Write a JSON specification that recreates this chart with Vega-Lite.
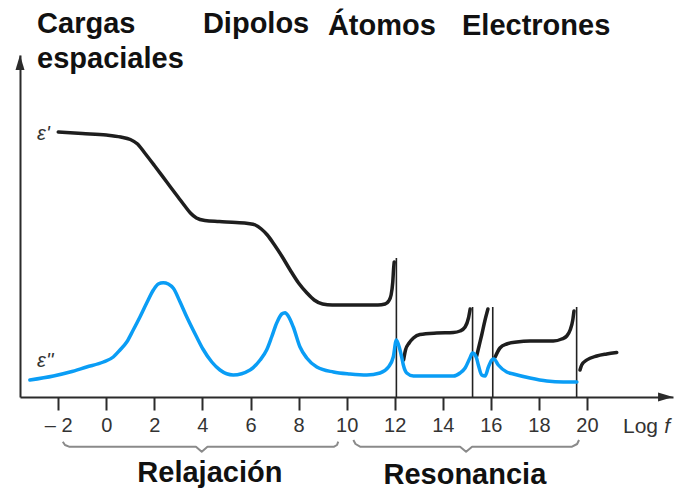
{
  "$schema": "https://vega.github.io/schema/vega-lite/v6.json",
  "width": 653,
  "height": 342,
  "autosize": "none",
  "padding": {"left": 20, "top": 55, "right": 7, "bottom": 94},
  "background": "white",
  "config": {"view": {"stroke": null}, "font": "Liberation Sans"},
  "datasets": {
    "curves": [
      {"kind": "e1", "seg": "a", "x": -2.0, "y": 265},
      {"kind": "e1", "seg": "a", "x": -1.0, "y": 263.5},
      {"kind": "e1", "seg": "a", "x": 0.0, "y": 262},
      {"kind": "e1", "seg": "a", "x": 0.6, "y": 260},
      {"kind": "e1", "seg": "a", "x": 1.0, "y": 257.5},
      {"kind": "e1", "seg": "a", "x": 1.3, "y": 253},
      {"kind": "e1", "seg": "a", "x": 1.6, "y": 244},
      {"kind": "e1", "seg": "a", "x": 2.0, "y": 231.5},
      {"kind": "e1", "seg": "a", "x": 2.5, "y": 215.5},
      {"kind": "e1", "seg": "a", "x": 3.0, "y": 199.5},
      {"kind": "e1", "seg": "a", "x": 3.3, "y": 190},
      {"kind": "e1", "seg": "a", "x": 3.5, "y": 184},
      {"kind": "e1", "seg": "a", "x": 3.75, "y": 179},
      {"kind": "e1", "seg": "a", "x": 4.1, "y": 176.5},
      {"kind": "e1", "seg": "a", "x": 4.7, "y": 175.5},
      {"kind": "e1", "seg": "a", "x": 5.4, "y": 174.5},
      {"kind": "e1", "seg": "a", "x": 5.9, "y": 173.5},
      {"kind": "e1", "seg": "a", "x": 6.2, "y": 172},
      {"kind": "e1", "seg": "a", "x": 6.45, "y": 168},
      {"kind": "e1", "seg": "a", "x": 6.7, "y": 162},
      {"kind": "e1", "seg": "a", "x": 7.0, "y": 152},
      {"kind": "e1", "seg": "a", "x": 7.3, "y": 141},
      {"kind": "e1", "seg": "a", "x": 7.65, "y": 127},
      {"kind": "e1", "seg": "a", "x": 8.0, "y": 114},
      {"kind": "e1", "seg": "a", "x": 8.35, "y": 104},
      {"kind": "e1", "seg": "a", "x": 8.65, "y": 97},
      {"kind": "e1", "seg": "a", "x": 9.0, "y": 93},
      {"kind": "e1", "seg": "a", "x": 9.4, "y": 92},
      {"kind": "e1", "seg": "a", "x": 10.5, "y": 92},
      {"kind": "e1", "seg": "a", "x": 11.3, "y": 92},
      {"kind": "e1", "seg": "a", "x": 11.6, "y": 93},
      {"kind": "e1", "seg": "a", "x": 11.75, "y": 96},
      {"kind": "e1", "seg": "a", "x": 11.85, "y": 102},
      {"kind": "e1", "seg": "a", "x": 11.92, "y": 115},
      {"kind": "e1", "seg": "a", "x": 11.96, "y": 130},
      {"kind": "e1", "seg": "a", "x": 11.98, "y": 135},
      {"kind": "e1", "seg": "b", "x": 12.37, "y": 37},
      {"kind": "e1", "seg": "b", "x": 12.45, "y": 47},
      {"kind": "e1", "seg": "b", "x": 12.6, "y": 54},
      {"kind": "e1", "seg": "b", "x": 12.78, "y": 59},
      {"kind": "e1", "seg": "b", "x": 13.05, "y": 62.5},
      {"kind": "e1", "seg": "b", "x": 13.75, "y": 64},
      {"kind": "e1", "seg": "b", "x": 14.44, "y": 64.5},
      {"kind": "e1", "seg": "b", "x": 14.72, "y": 66},
      {"kind": "e1", "seg": "b", "x": 14.93, "y": 70},
      {"kind": "e1", "seg": "b", "x": 15.07, "y": 79},
      {"kind": "e1", "seg": "b", "x": 15.14, "y": 88},
      {"kind": "e1", "seg": "c", "x": 15.41, "y": 41},
      {"kind": "e1", "seg": "c", "x": 15.52, "y": 52},
      {"kind": "e1", "seg": "c", "x": 15.62, "y": 62},
      {"kind": "e1", "seg": "c", "x": 15.75, "y": 76},
      {"kind": "e1", "seg": "c", "x": 15.88, "y": 88},
      {"kind": "e1", "seg": "d", "x": 16.18, "y": 40},
      {"kind": "e1", "seg": "d", "x": 16.38, "y": 49},
      {"kind": "e1", "seg": "d", "x": 16.66, "y": 53},
      {"kind": "e1", "seg": "d", "x": 17.08, "y": 55},
      {"kind": "e1", "seg": "d", "x": 17.63, "y": 56},
      {"kind": "e1", "seg": "d", "x": 18.6, "y": 56},
      {"kind": "e1", "seg": "d", "x": 18.95, "y": 58},
      {"kind": "e1", "seg": "d", "x": 19.16, "y": 61},
      {"kind": "e1", "seg": "d", "x": 19.3, "y": 67},
      {"kind": "e1", "seg": "d", "x": 19.41, "y": 77},
      {"kind": "e1", "seg": "d", "x": 19.46, "y": 86},
      {"kind": "e1", "seg": "e", "x": 19.71, "y": 27},
      {"kind": "e1", "seg": "e", "x": 19.78, "y": 32},
      {"kind": "e1", "seg": "e", "x": 19.99, "y": 37},
      {"kind": "e1", "seg": "e", "x": 20.41, "y": 41},
      {"kind": "e1", "seg": "e", "x": 20.82, "y": 43},
      {"kind": "e1", "seg": "e", "x": 21.24, "y": 44.5},
      {"kind": "e2", "seg": "z", "x": -3.18, "y": 17},
      {"kind": "e2", "seg": "z", "x": -2.2, "y": 21},
      {"kind": "e2", "seg": "z", "x": -1.51, "y": 25},
      {"kind": "e2", "seg": "z", "x": -0.82, "y": 30},
      {"kind": "e2", "seg": "z", "x": -0.12, "y": 35},
      {"kind": "e2", "seg": "z", "x": 0.29, "y": 40},
      {"kind": "e2", "seg": "z", "x": 0.57, "y": 47},
      {"kind": "e2", "seg": "z", "x": 0.85, "y": 55},
      {"kind": "e2", "seg": "z", "x": 1.12, "y": 67},
      {"kind": "e2", "seg": "z", "x": 1.4, "y": 80},
      {"kind": "e2", "seg": "z", "x": 1.68, "y": 94},
      {"kind": "e2", "seg": "z", "x": 1.96, "y": 107},
      {"kind": "e2", "seg": "z", "x": 2.16, "y": 113},
      {"kind": "e2", "seg": "z", "x": 2.37, "y": 114.3},
      {"kind": "e2", "seg": "z", "x": 2.58, "y": 113},
      {"kind": "e2", "seg": "z", "x": 2.79, "y": 108.7},
      {"kind": "e2", "seg": "z", "x": 3.07, "y": 95},
      {"kind": "e2", "seg": "z", "x": 3.35, "y": 80},
      {"kind": "e2", "seg": "z", "x": 3.76, "y": 60},
      {"kind": "e2", "seg": "z", "x": 4.02, "y": 48},
      {"kind": "e2", "seg": "z", "x": 4.39, "y": 35},
      {"kind": "e2", "seg": "z", "x": 4.73, "y": 27},
      {"kind": "e2", "seg": "z", "x": 5.28, "y": 22},
      {"kind": "e2", "seg": "z", "x": 5.98, "y": 27},
      {"kind": "e2", "seg": "z", "x": 6.4, "y": 37},
      {"kind": "e2", "seg": "z", "x": 6.67, "y": 47},
      {"kind": "e2", "seg": "z", "x": 6.88, "y": 60},
      {"kind": "e2", "seg": "z", "x": 7.09, "y": 74},
      {"kind": "e2", "seg": "z", "x": 7.3, "y": 83},
      {"kind": "e2", "seg": "z", "x": 7.44, "y": 84.3},
      {"kind": "e2", "seg": "z", "x": 7.57, "y": 81},
      {"kind": "e2", "seg": "z", "x": 7.78, "y": 70},
      {"kind": "e2", "seg": "z", "x": 8.06, "y": 50},
      {"kind": "e2", "seg": "z", "x": 8.34, "y": 39},
      {"kind": "e2", "seg": "z", "x": 8.76, "y": 30},
      {"kind": "e2", "seg": "z", "x": 9.45, "y": 25},
      {"kind": "e2", "seg": "z", "x": 10.14, "y": 23},
      {"kind": "e2", "seg": "z", "x": 10.84, "y": 22},
      {"kind": "e2", "seg": "z", "x": 11.39, "y": 24},
      {"kind": "e2", "seg": "z", "x": 11.74, "y": 30},
      {"kind": "e2", "seg": "z", "x": 11.94, "y": 40},
      {"kind": "e2", "seg": "z", "x": 12.07, "y": 57},
      {"kind": "e2", "seg": "z", "x": 12.22, "y": 47},
      {"kind": "e2", "seg": "z", "x": 12.29, "y": 40},
      {"kind": "e2", "seg": "z", "x": 12.36, "y": 32},
      {"kind": "e2", "seg": "z", "x": 12.5, "y": 24},
      {"kind": "e2", "seg": "z", "x": 12.78, "y": 21},
      {"kind": "e2", "seg": "z", "x": 14.44, "y": 21},
      {"kind": "e2", "seg": "z", "x": 14.72, "y": 24},
      {"kind": "e2", "seg": "z", "x": 14.93, "y": 29},
      {"kind": "e2", "seg": "z", "x": 15.13, "y": 39},
      {"kind": "e2", "seg": "z", "x": 15.24, "y": 44},
      {"kind": "e2", "seg": "z", "x": 15.39, "y": 40},
      {"kind": "e2", "seg": "z", "x": 15.48, "y": 32},
      {"kind": "e2", "seg": "z", "x": 15.62, "y": 22},
      {"kind": "e2", "seg": "z", "x": 15.76, "y": 21},
      {"kind": "e2", "seg": "z", "x": 15.9, "y": 30},
      {"kind": "e2", "seg": "z", "x": 16.04, "y": 37},
      {"kind": "e2", "seg": "z", "x": 16.13, "y": 38},
      {"kind": "e2", "seg": "z", "x": 16.31, "y": 32},
      {"kind": "e2", "seg": "z", "x": 16.66, "y": 25},
      {"kind": "e2", "seg": "z", "x": 16.94, "y": 23},
      {"kind": "e2", "seg": "z", "x": 17.63, "y": 19},
      {"kind": "e2", "seg": "z", "x": 18.33, "y": 16},
      {"kind": "e2", "seg": "z", "x": 19.02, "y": 15},
      {"kind": "e2", "seg": "z", "x": 19.58, "y": 15}
    ],
    "vlines": [
      {"x": 12.07, "y": 0, "y2": 139},
      {"x": 15.24, "y": 0, "y2": 90},
      {"x": 16.08, "y": 0, "y2": 90},
      {"x": 19.57, "y": 0, "y2": 90}
    ],
    "braces": [
      {"b": "L", "x": -1.81, "y": -44.7},
      {"b": "L", "x": -1.72, "y": -48},
      {"b": "L", "x": -1.55, "y": -49.7},
      {"b": "L", "x": 3.73, "y": -49.7},
      {"b": "L", "x": 3.97, "y": -54.7},
      {"b": "L", "x": 4.21, "y": -49.7},
      {"b": "L", "x": 9.48, "y": -49.7},
      {"b": "L", "x": 9.6, "y": -48},
      {"b": "L", "x": 9.65, "y": -44.7},
      {"b": "R", "x": 10.28, "y": -43},
      {"b": "R", "x": 10.37, "y": -47},
      {"b": "R", "x": 10.56, "y": -49.7},
      {"b": "R", "x": 14.72, "y": -49.7},
      {"b": "R", "x": 14.97, "y": -54.7},
      {"b": "R", "x": 15.22, "y": -49.7},
      {"b": "R", "x": 19.38, "y": -49.7},
      {"b": "R", "x": 19.59, "y": -47},
      {"b": "R", "x": 19.67, "y": -43}
    ],
    "heads": [{"x": -3.591, "y": 334.5}],
    "headr": [{"x": 23.27, "y": 0}],
    "top": [
      {"x": -2.88, "y": 364, "t": "Cargas"},
      {"x": -2.88, "y": 329, "t": "espaciales"},
      {"x": 4.02, "y": 364, "t": "Dipolos"},
      {"x": 9.22, "y": 362, "t": "Átomos"},
      {"x": 14.8, "y": 362, "t": "Electrones"}
    ],
    "bottom": [
      {"x": 4.31, "y": -85, "t": "Relajación"},
      {"x": 14.92, "y": -87, "t": "Resonancia"}
    ],
    "eps": [
      {"x": -2.88, "y": 263, "t": "ε'"},
      {"x": -2.88, "y": 36, "t": "ε''"}
    ],
    "logl": [{"x": 21.5, "y": -36, "t": "Log"}],
    "logf": [{"x": 23.22, "y": -36, "t": "f"}]
  },
  "layer": [
    {
      "data": {"name": "vlines"},
      "mark": {"type": "rule", "color": "#222222", "strokeWidth": 1.6},
      "encoding": {
        "x": {"field": "x", "type": "quantitative",
              "scale": {"domain": [-3.591, 23.58], "nice": false, "zero": false},
              "axis": {"values": [-2, 0, 2, 4, 6, 8, 10, 12, 14, 16, 18, 20], "title": null, "grid": false,
                       "domainColor": "#2b2b2b", "domainWidth": 2, "tickColor": "#2b2b2b", "tickWidth": 2,
                       "tickSize": 13, "labelFontSize": 20, "labelColor": "#333333", "labelFont": "Liberation Sans",
                       "labelPadding": 5, "labelOverlap": false, "labelFlush": false, "labelBound": false,
                       "labelExpr": "datum.value < 0 ? '\u2013 ' + abs(datum.value) : datum.label"}},
        "y": {"field": "y", "type": "quantitative",
              "scale": {"domain": [0, 342], "nice": false, "zero": false},
              "axis": {"title": null, "grid": false, "ticks": false, "labels": false,
                       "domainColor": "#2b2b2b", "domainWidth": 2}},
        "y2": {"field": "y2"}
      }
    },
    {
      "data": {"name": "curves"},
      "mark": {"type": "line", "strokeWidth": 3.5, "strokeCap": "round", "strokeJoin": "round", "interpolate": "monotone"},
      "encoding": {
        "x": {"field": "x", "type": "quantitative"},
        "y": {"field": "y", "type": "quantitative"},
        "color": {"field": "kind", "type": "nominal", "legend": null,
                  "scale": {"domain": ["e1", "e2"], "range": ["#1e1e1e", "#0a9df5"]}},
        "detail": {"field": "seg"},
        "order": {"field": "x", "type": "quantitative"}
      }
    },
    {
      "data": {"name": "braces"},
      "mark": {"type": "line", "strokeWidth": 2, "color": "#8a8a8a", "strokeJoin": "round"},
      "encoding": {
        "x": {"field": "x", "type": "quantitative"},
        "y": {"field": "y", "type": "quantitative"},
        "detail": {"field": "b"},
        "order": {"field": "x", "type": "quantitative"}
      }
    },
    {
      "data": {"name": "heads"},
      "mark": {"type": "point", "shape": "M-0.6,1L0,-1L0.6,1Z", "size": 225, "filled": true, "color": "#2b2b2b", "opacity": 1},
      "encoding": {
        "x": {"field": "x", "type": "quantitative"},
        "y": {"field": "y", "type": "quantitative"}
      }
    },
    {
      "data": {"name": "headr"},
      "mark": {"type": "point", "shape": "M-1,-0.6L1,0L-1,0.6Z", "size": 225, "filled": true, "color": "#2b2b2b", "opacity": 1},
      "encoding": {
        "x": {"field": "x", "type": "quantitative"},
        "y": {"field": "y", "type": "quantitative"}
      }
    },
    {
      "data": {"name": "top"},
      "mark": {"type": "text", "align": "left", "baseline": "alphabetic", "font": "Liberation Sans", "fontWeight": "bold", "fontSize": 29, "color": "#111111"},
      "encoding": {
        "x": {"field": "x", "type": "quantitative"},
        "y": {"field": "y", "type": "quantitative"},
        "text": {"field": "t"}
      }
    },
    {
      "data": {"name": "bottom"},
      "mark": {"type": "text", "align": "center", "baseline": "alphabetic", "font": "Liberation Sans", "fontWeight": "bold", "fontSize": 29, "color": "#111111"},
      "encoding": {
        "x": {"field": "x", "type": "quantitative"},
        "y": {"field": "y", "type": "quantitative"},
        "text": {"field": "t"}
      }
    },
    {
      "data": {"name": "eps"},
      "mark": {"type": "text", "align": "left", "baseline": "middle", "font": "Liberation Sans", "fontStyle": "italic", "fontSize": 20, "color": "#333333"},
      "encoding": {
        "x": {"field": "x", "type": "quantitative"},
        "y": {"field": "y", "type": "quantitative"},
        "text": {"field": "t"}
      }
    },
    {
      "data": {"name": "logl"},
      "mark": {"type": "text", "align": "left", "baseline": "alphabetic", "font": "Liberation Sans", "fontSize": 21, "color": "#333333"},
      "encoding": {
        "x": {"field": "x", "type": "quantitative"},
        "y": {"field": "y", "type": "quantitative"},
        "text": {"field": "t"}
      }
    },
    {
      "data": {"name": "logf"},
      "mark": {"type": "text", "align": "left", "baseline": "alphabetic", "font": "Liberation Sans", "fontStyle": "italic", "fontSize": 21, "color": "#333333"},
      "encoding": {
        "x": {"field": "x", "type": "quantitative"},
        "y": {"field": "y", "type": "quantitative"},
        "text": {"field": "t"}
      }
    }
  ]
}
